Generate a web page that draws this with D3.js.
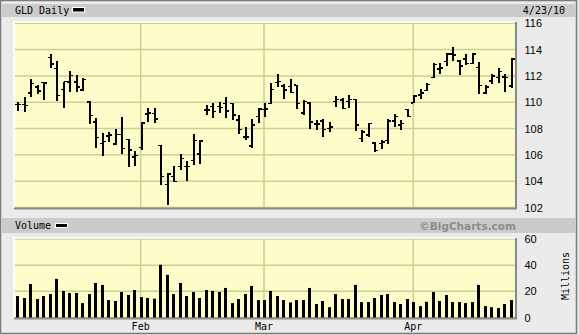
<!DOCTYPE html>
<html>
<head>
<meta charset="utf-8">
<script src="https://cdn.jsdelivr.net/npm/d3@7"></script>
<style>
  body { margin: 0; background: #ebebeb; }
  svg { display: block; }
  .lbl { font-family: "DejaVu Sans Mono", monospace; font-size: 10px; fill: #000; }
  .tick-lbl { font-family: "Liberation Sans", Arial, sans-serif; font-size: 11px; fill: #000; }
</style>
</head>
<body>
<div id="wrapper"></div>
<script>
// trading days, Jan 4 - Apr 23 2010
const tradeDays = [
  "2010-01-04","2010-01-05","2010-01-06","2010-01-07","2010-01-08","2010-01-11","2010-01-12","2010-01-13",
  "2010-01-14","2010-01-15","2010-01-19","2010-01-20","2010-01-21","2010-01-22","2010-01-25","2010-01-26",
  "2010-01-27","2010-01-28","2010-01-29",
  "2010-02-01","2010-02-02","2010-02-03","2010-02-04","2010-02-05","2010-02-08","2010-02-09","2010-02-10",
  "2010-02-11","2010-02-12","2010-02-16","2010-02-17","2010-02-18","2010-02-19","2010-02-22","2010-02-23",
  "2010-02-24","2010-02-25","2010-02-26",
  "2010-03-01","2010-03-02","2010-03-03","2010-03-04","2010-03-05","2010-03-08","2010-03-09","2010-03-10",
  "2010-03-11","2010-03-12","2010-03-15","2010-03-16","2010-03-17","2010-03-18","2010-03-19","2010-03-22",
  "2010-03-23","2010-03-24","2010-03-25","2010-03-26","2010-03-29","2010-03-30","2010-03-31",
  "2010-04-01","2010-04-05","2010-04-06","2010-04-07","2010-04-08","2010-04-09","2010-04-12","2010-04-13",
  "2010-04-14","2010-04-15","2010-04-16","2010-04-19","2010-04-20","2010-04-21","2010-04-22","2010-04-23"
]
const opens = [
  109.82,109.82,110.72,111.15,111.50,113.41,112.56,110.97,111.54,111.55,110.92,110.00,108.49,106.87,107.44,106.82,
  107.56,107.18,105.85,106.55,109.10,109.15,106.73,103.76,104.37,105.13,105.13,105.59,106.05,109.40,109.66,109.66,
  109.91,109.91,108.64,107.37,106.66,108.90,109.46,109.91,111.49,111.24,111.20,111.31,109.20,109.96,108.34,108.59,
  108.00,110.04,110.17,110.04,110.22,107.24,107.50,106.90,106.86,107.11,108.59,108.28,109.44,109.95,110.54,110.90,
  111.87,112.54,113.10,113.67,113.15,113.28,112.95,112.64,110.72,111.62,111.87,111.92,111.23
]
const highs = [
  110.03,110.41,111.79,111.28,111.56,113.67,113.15,111.56,112.38,112.08,111.82,110.08,108.80,107.64,107.72,107.95,
  108.85,107.20,106.28,108.51,109.53,109.53,106.73,104.62,105.13,106.10,105.51,107.57,107.11,109.79,109.96,110.04,
  110.37,109.96,109.02,108.13,108.69,109.53,109.91,111.49,112.15,111.39,111.75,111.31,110.17,110.04,108.64,108.69,
  108.51,110.47,110.35,110.58,110.22,107.88,108.44,106.99,107.11,108.69,109.10,108.67,109.49,110.54,110.97,111.49,
  112.95,112.95,113.72,114.18,113.20,113.67,113.72,113.03,111.31,112.18,112.64,112.13,113.36
]
const lows = [
  109.36,109.23,110.41,110.59,110.20,112.59,110.08,109.56,110.80,110.80,110.85,108.36,106.56,105.92,107.00,106.74,
  106.10,105.08,105.15,106.35,108.51,108.39,103.73,102.20,103.93,104.82,104.00,105.20,105.33,109.02,108.84,109.15,
  108.77,108.64,107.62,107.11,106.55,108.39,108.90,109.84,111.19,110.22,110.68,109.46,109.02,108.00,107.88,107.37,
  107.75,109.66,109.48,109.58,107.83,106.99,107.37,106.22,106.48,106.81,108.15,107.90,108.85,109.95,110.21,110.85,
  111.82,112.18,112.77,113.10,112.08,112.85,112.90,110.59,110.64,111.36,111.49,110.79,111.10
]
const closes = [
  109.82,109.74,111.41,110.85,111.45,112.90,110.51,111.56,112.05,111.15,111.74,109.00,107.33,107.00,107.51,107.56,
  106.49,106.36,105.97,108.44,109.20,108.72,104.37,104.55,103.98,105.71,105.13,107.11,107.06,109.40,109.28,109.60,
  109.35,109.02,107.93,107.37,108.26,109.48,109.50,110.98,111.57,110.93,110.75,109.91,110.04,108.51,108.34,107.93,
  108.13,110.20,109.53,110.22,108.26,107.75,108.39,106.35,106.99,108.59,108.92,108.40,108.92,110.46,110.72,111.36,
  112.85,112.59,113.67,113.60,112.77,112.95,113.67,111.28,111.15,112.00,112.33,111.87,113.28
]
// volume in millions
const volumes = [
  16.4,14.9,25.6,14.1,16.4,17.9,29.5,20.3,18.7,18.7,11.0,17.9,26.4,24.9,13.3,12.6,19.5,17.2,21.0,
  15.6,14.9,14.4,40.3,32.6,17.9,26.4,16.4,19.5,14.9,21.0,20.3,19.5,22.6,11.0,14.1,17.9,24.1,13.3,
  13.3,20.3,16.4,13.3,11.5,13.3,13.3,22.6,10.3,12.6,7.9,17.9,14.1,14.1,24.9,11.8,11.8,14.9,17.2,17.9,11.8,10.3,14.1,
  11.8,8.7,12.0,19.5,12.6,17.2,11.8,11.8,11.0,11.8,24.9,8.7,7.9,7.2,10.3,13.3
]
const priceTicks = [102, 104, 106, 108, 110, 112, 114, 116]
const volumeTicks = [0, 20, 40, 60]
const monthStarts = ["2010-02-01", "2010-03-01", "2010-04-01"]
const monthLabels = ["Feb", "Mar", "Apr"]

const dataset = tradeDays.map((d, i) => ({
  date: d, open: opens[i], high: highs[i], low: lows[i], close: closes[i], volume: volumes[i]
}))

const width = 579, height = 335
const price = { left: 14, right: 515.5, top: 22, bottom: 208 }
const vol = { left: 14, right: 515.5, top: 238, bottom: 318 }

const svg = d3.select("#wrapper").append("svg")
  .attr("width", width)
  .attr("height", height)

// dotted paper texture
const defs = svg.append("defs")
const pat = defs.append("pattern")
  .attr("id", "paper")
  .attr("width", 2).attr("height", 2)
  .attr("patternUnits", "userSpaceOnUse")
pat.append("rect").attr("width", 2).attr("height", 2).attr("fill", "#ffffcc")
pat.append("rect").attr("width", 1).attr("height", 1).attr("fill", "#f6f6c6")

// frame
svg.append("rect")
  .attr("x", 0.5).attr("y", 0.5)
  .attr("width", width - 3).attr("height", height - 2)
  .attr("fill", "#ebebeb")
  .attr("stroke", "#7a7a7a")
  .attr("stroke-width", 1.5)

svg.append("rect").attr("x", 2).attr("y", 4).attr("width", width - 5).attr("height", 13).attr("fill", "#cbcbcb")
svg.append("rect").attr("x", 2).attr("y", 218).attr("width", width - 5).attr("height", 15).attr("fill", "#cbcbcb")

svg.append("text").attr("class", "lbl").attr("x", 15).attr("y", 14).text("GLD Daily")
svg.append("rect").attr("x", 72).attr("y", 7).attr("width", 13).attr("height", 5.5).attr("fill", "#fff")
svg.append("rect").attr("x", 73).attr("y", 8).attr("width", 11).attr("height", 3.5).attr("fill", "#000")
svg.append("text").attr("class", "lbl").attr("x", 565).attr("y", 14)
  .attr("text-anchor", "end").text("4/23/10")

svg.append("text").attr("class", "lbl").attr("x", 15).attr("y", 229).text("Volume")
svg.append("rect").attr("x", 55).attr("y", 223).attr("width", 13).attr("height", 5).attr("fill", "#fff")
svg.append("rect").attr("x", 56).attr("y", 224).attr("width", 11).attr("height", 3).attr("fill", "#000")
svg.append("text")
  .attr("x", 516).attr("y", 229.5)
  .attr("text-anchor", "end")
  .style("font-family", "'DejaVu Sans', sans-serif")
  .style("font-size", "10.5px")
  .style("font-weight", "bold")
  .style("fill", "#8c8c8c")
  .text("©BigCharts.com")

// scales
const xScale = d3.scalePoint()
  .domain(tradeDays)
  .range([17.3, 510.7])

const yScale = d3.scaleLinear()
  .domain([102, 116])
  .range([207.5, 23.3])

const vScale = d3.scaleLinear()
  .domain([0, 60])
  .range([317.5, 239])

function drawPanel(box, scale, ticks) {
  const g = svg.append("g")
  g.append("rect")
    .attr("x", box.left).attr("y", box.top)
    .attr("width", box.right - box.left).attr("height", box.bottom - box.top)
    .attr("fill", "url(#paper)")
  // horizontal grid
  g.selectAll(".hgrid")
    .data(ticks)
    .enter().append("line")
    .attr("x1", box.left).attr("x2", box.right)
    .attr("y1", d => scale(d)).attr("y2", d => scale(d))
    .attr("stroke", "#cdcd96").attr("stroke-width", 1.5)
  // month grid
  g.selectAll(".vgrid")
    .data(monthStarts)
    .enter().append("line")
    .attr("x1", d => xScale(d)).attr("x2", d => xScale(d))
    .attr("y1", box.top).attr("y2", box.bottom)
    .attr("stroke", "#cdcd96").attr("stroke-width", 1.5)
  // bevel edges
  g.append("path")
    .attr("d", `M${box.left},${box.bottom}V${box.top}H${box.right}`)
    .attr("fill", "none").attr("stroke", "#fff").attr("stroke-width", 1.5)
  g.append("path")
    .attr("d", `M${box.left},${box.bottom + 0.5}H${box.right + 0.5}V${box.top}`)
    .attr("fill", "none").attr("stroke", "#8a8a8a").attr("stroke-width", 2)
  return g
}

drawPanel(price, yScale, priceTicks)
drawPanel(vol, vScale, volumeTicks)

// price axis
const yAxis = svg.append("g")
  .attr("transform", `translate(${price.right}, 0)`)
  .call(d3.axisRight(yScale).tickValues(priceTicks).tickSize(0).tickPadding(9))
yAxis.select(".domain").remove()
yAxis.selectAll("text").attr("class", "tick-lbl").attr("fill", null)

const vAxis = svg.append("g")
  .attr("transform", `translate(${vol.right}, 0)`)
  .call(d3.axisRight(vScale).tickValues(volumeTicks).tickSize(0).tickPadding(9))
vAxis.select(".domain").remove()
vAxis.selectAll("text").attr("class", "tick-lbl").attr("fill", null)

svg.append("text")
  .attr("class", "lbl")
  .attr("transform", "translate(569, 276) rotate(-90)")
  .attr("text-anchor", "middle")
  .text("Millions")

// month labels
svg.selectAll(".month")
  .data(monthStarts)
  .enter().append("text")
  .attr("class", "lbl")
  .attr("x", d => xScale(d))
  .attr("y", 330)
  .attr("text-anchor", "middle")
  .text((d, i) => monthLabels[i])

// OHLC bars
const bars = svg.append("g")
  .attr("stroke", "#000")
  .attr("shape-rendering", "crispEdges")
bars.selectAll(".hl")
  .data(dataset)
  .enter().append("line")
  .attr("x1", d => Math.round(xScale(d.date)) + 0.5)
  .attr("x2", d => Math.round(xScale(d.date)) + 0.5)
  .attr("y1", d => yScale(d.high))
  .attr("y2", d => yScale(d.low))
  .attr("stroke-width", 2)
bars.selectAll(".op")
  .data(dataset)
  .enter().append("line")
  .attr("x1", d => Math.round(xScale(d.date)) - 2.5)
  .attr("x2", d => Math.round(xScale(d.date)))
  .attr("y1", d => yScale(d.open))
  .attr("y2", d => yScale(d.open))
  .attr("stroke-width", 1.5)
bars.selectAll(".cl")
  .data(dataset)
  .enter().append("line")
  .attr("x1", d => Math.round(xScale(d.date)) + 1)
  .attr("x2", d => Math.round(xScale(d.date)) + 3.5)
  .attr("y1", d => yScale(d.close))
  .attr("y2", d => yScale(d.close))
  .attr("stroke-width", 1.5)

// volume bars
svg.append("g").selectAll("rect")
  .data(dataset)
  .enter().append("rect")
  .attr("x", d => Math.round(xScale(d.date)) - 1)
  .attr("width", 3)
  .attr("y", d => vScale(d.volume))
  .attr("height", d => vScale(0) - vScale(d.volume))
  .attr("fill", "#000")
</script>
</body>
</html>
